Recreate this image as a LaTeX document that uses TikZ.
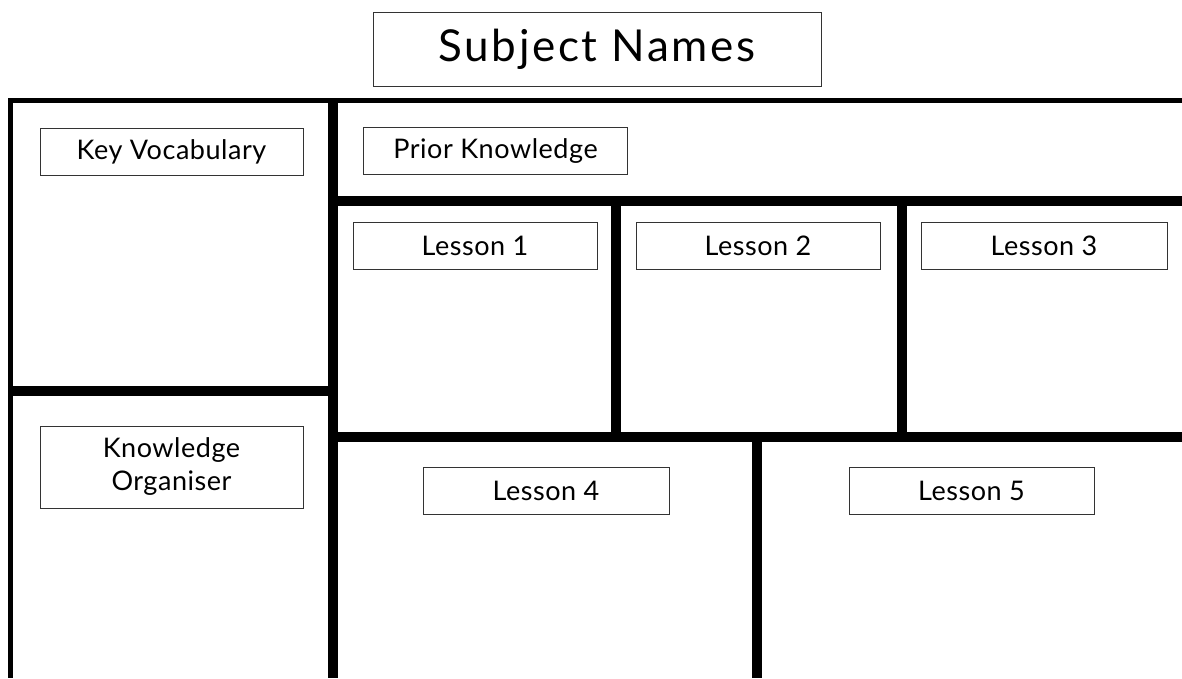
\documentclass[tikz,border=0pt]{standalone}
\usepackage{fontspec}
\setmainfont{Lato}
\usetikzlibrary{positioning}

\begin{document}
\begin{tikzpicture}[x=1pt, y=-1pt,
    frame/.style={line width=5pt, line join=miter},
    divider/.style={line width=10pt},
    label/.style={draw=black!80, line width=1pt, minimum height=47pt, inner sep=0pt,
      align=center, font=\fontsize{27}{33}\selectfont\addfontfeature{LetterSpace=2}},
    titlebox/.style={draw=black!80, line width=1pt, minimum width=448pt, minimum height=74pt,
      font=\fontsize{44}{50}\selectfont\addfontfeature{LetterSpace=6}}]
    \useasboundingbox (0,0) rectangle (1182,678);

    % outer frame and panel dividers
    \draw[frame] (1182,100.5) -- (10,100.5) -- (10,678);
    \draw[divider] (333,100) -- (333,678);
    \draw[divider] (10,391) -- (333,391);
    \draw[divider] (333,200.5) -- (1182,200.5);
    \draw[divider] (333,436.5) -- (1182,436.5);
    \draw[divider] (615.5,200.5) -- (615.5,436.5);
    \draw[divider] (902,200.5) -- (902,436.5);
    \draw[divider] (757,436.5) -- (757,678);

    % headings
    \node[titlebox] (title) at (597,49) {Subject Names};
    \node[label, minimum width=263pt] (vocab) at (171.5,151.5) {Key Vocabulary};
    \node[label, minimum width=264pt] (prior) at (495.5,151) {Prior Knowledge};
    \node[label, minimum width=263pt, minimum height=82pt] (organiser) at (171.5,467)
      {Knowledge\\Organiser};
    \node[label, minimum width=244pt] (lesson1) at (475,245.5) {Lesson 1};
    \node[label, minimum width=244pt] (lesson2) at (758,245.5) {Lesson 2};
    \node[label, minimum width=246pt] (lesson3) at (1044,245.5) {Lesson 3};
    \node[label, minimum width=246pt] (lesson4) at (546,490.5) {Lesson 4};
    \node[label, minimum width=245pt] (lesson5) at (971.5,490.5) {Lesson 5};
\end{tikzpicture}
\end{document}
